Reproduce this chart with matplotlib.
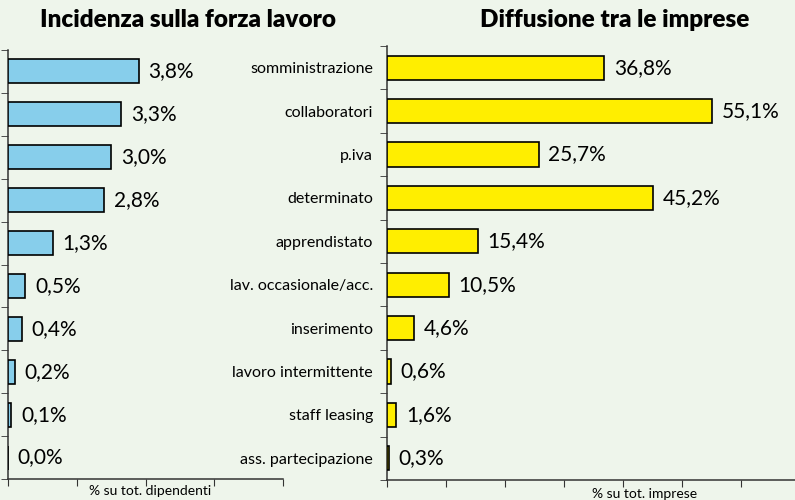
import numpy as np
import matplotlib.pyplot as plt
from matplotlib.ticker import MultipleLocator, FixedLocator, NullFormatter

# data
categorie = ["somministrazione", "collaboratori", "p.iva", "determinato",
             "apprendistato", "lav. occasionale/acc.", "inserimento",
             "lavoro intermittente", "staff leasing", "ass. partecipazione"]
incidenza = [3.8, 3.3, 3.0, 2.8, 1.3, 0.5, 0.4, 0.2, 0.1, 0.0]
diffusione = [36.8, 55.1, 25.7, 45.2, 15.4, 10.5, 4.6, 0.6, 1.6, 0.3]

bg = "#eef5eb"
plt.rcParams["font.family"] = ["Lato", "DejaVu Sans"]

fig = plt.figure(figsize=(7.95, 5.0), dpi=100, facecolor=bg)

# axes positions in figure fractions
ax1 = fig.add_axes([8/795, 1-479/500, 275/795, (479-50)/500])
ax2 = fig.add_axes([387/795, 1-480/500, 408/795, (480-46)/500])

n = len(categorie)
y = np.arange(n)


def fmt(v):
    return ("%.1f%%" % v).replace(".", ",")


def prepara(ax, vals, colore, xmax, step, xlabel, titolo, tx, ty):
    ax.set_facecolor(bg)
    ax.barh(y, vals, height=0.56, color=colore, edgecolor="black",
            linewidth=1.2, zorder=3)
    ax.set_ylim(n - 0.5, -0.5)
    ax.set_xlim(0, xmax)
    for yi, v in zip(y, vals):
        ax.annotate(fmt(v), (v, yi), xytext=(7, 0), textcoords="offset points",
                    va="center", ha="left", fontsize=15, color="black")
    for s in ["top", "right"]:
        ax.spines[s].set_visible(False)
    for s in ["left", "bottom"]:
        ax.spines[s].set_color("#333333")
        ax.spines[s].set_linewidth(1.1)
    ax.xaxis.set_major_locator(MultipleLocator(step))
    ax.xaxis.set_major_formatter(NullFormatter())
    ax.tick_params(axis="x", length=5, color="#333333", direction="out")
    # category boundaries as ticks, labels at bar centres
    ax.yaxis.set_major_locator(FixedLocator(y))
    ax.yaxis.set_minor_locator(FixedLocator(np.arange(-0.5, n, 1)))
    ax.tick_params(axis="y", which="major", length=0, pad=10, labelsize=11.5)
    ax.tick_params(axis="y", which="minor", length=5, color="#333333")
    ax.set_xlabel(xlabel, fontsize=10, labelpad=1)
    fig.text(tx, ty, titolo, ha="center", va="center", fontsize=17.5,
             fontweight="heavy")


prepara(ax1, incidenza, "#87ceeb", 8, 2, "% su tot. dipendenti",
        "Incidenza sulla forza lavoro", 188/795, 1-20/500)
ax1.set_yticklabels([])

prepara(ax2, diffusione, "#ffee00", 69.2, 10, "% su tot. imprese",
        "Diffusione tra le imprese", 615/795, 1-20/500)
ax2.set_yticklabels(categorie)
ax2.xaxis.set_label_coords(258/408, -0.018)
ax1.xaxis.set_label_coords(142/275, -0.015)

fig.savefig("out.png", dpi=100, facecolor=bg)
